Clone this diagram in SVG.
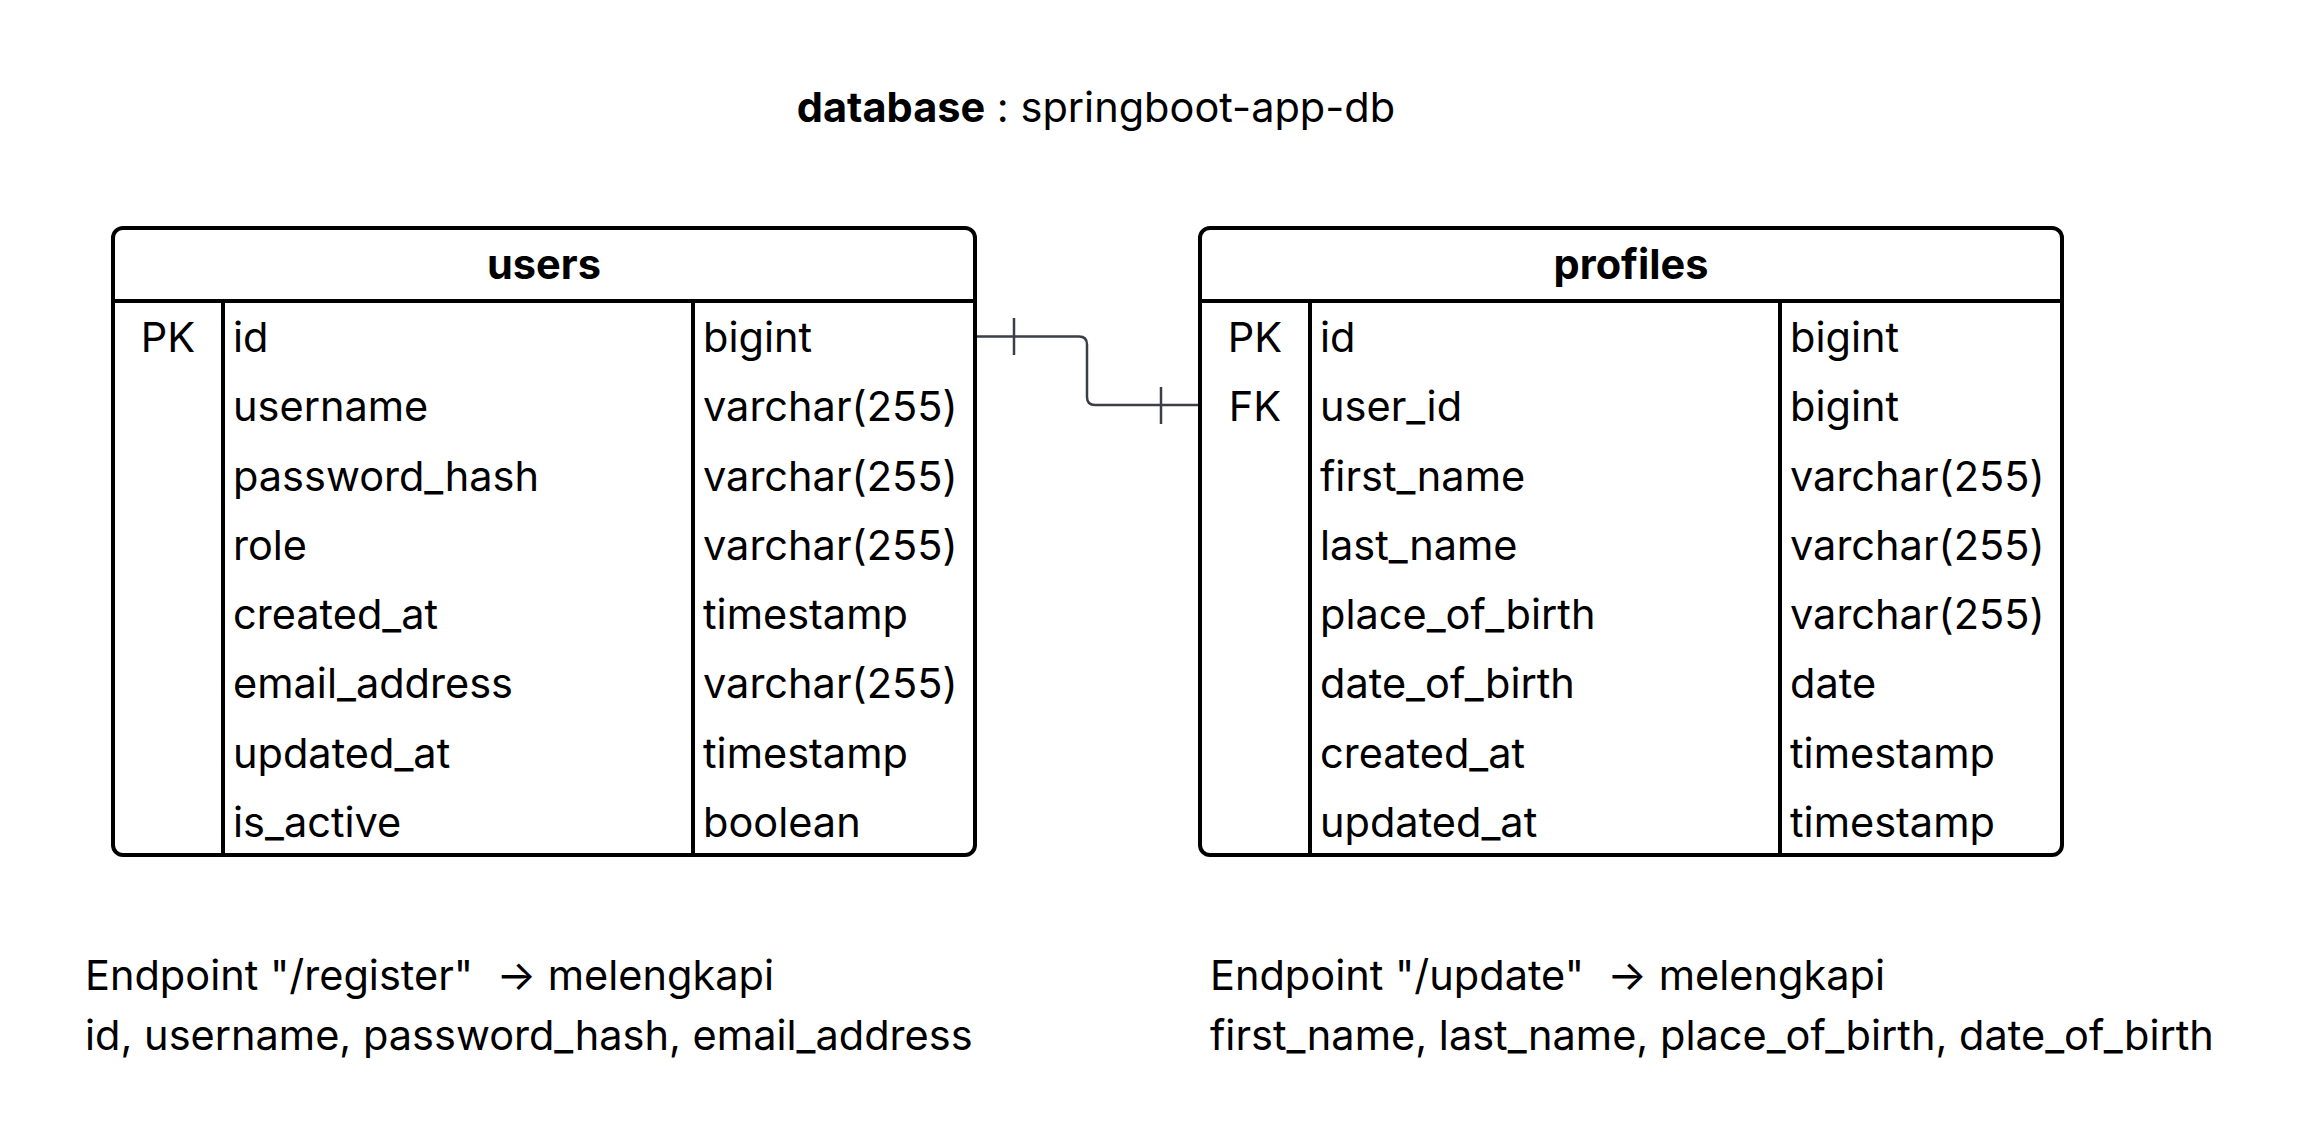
<svg xmlns="http://www.w3.org/2000/svg" width="2303" height="1144" viewBox="0 0 2303 1144">
<style>
text { font-family: Inter, "Noto Sans", "Liberation Sans", sans-serif; font-size: 41.5px; fill: #000; }
.hdr { font-weight: bold; text-anchor: middle; }
.key { text-anchor: middle; }
.box { fill: #fff; stroke: #000; stroke-width: 4; }
.ln { stroke: #000; stroke-width: 4; fill: none; }
.conn { stroke: #3a3f47; stroke-width: 2.5; fill: none; }
</style>
<rect width="2303" height="1144" fill="#fff"/>
<text x="1096" y="122" text-anchor="middle"><tspan font-weight="bold">database</tspan> : springboot-app-db</text>

<g id="users">
  <rect class="box" x="113" y="228" width="862" height="627" rx="10"/>
  <line class="ln" x1="113" y1="301" x2="975" y2="301"/>
  <line class="ln" x1="223" y1="301" x2="223" y2="855"/>
  <line class="ln" x1="693" y1="301" x2="693" y2="855"/>
  <text class="hdr" x="544" y="279">users</text>
  <text class="key" x="168" y="352">PK</text>
  <text x="233" y="352">id</text><text x="703" y="352">bigint</text>
  <text x="233" y="421.25">username</text><text x="703" y="421.25">varchar(255)</text>
  <text x="233" y="490.5">password_hash</text><text x="703" y="490.5">varchar(255)</text>
  <text x="233" y="559.75">role</text><text x="703" y="559.75">varchar(255)</text>
  <text x="233" y="629">created_at</text><text x="703" y="629">timestamp</text>
  <text x="233" y="698.25">email_address</text><text x="703" y="698.25">varchar(255)</text>
  <text x="233" y="767.5">updated_at</text><text x="703" y="767.5">timestamp</text>
  <text x="233" y="836.75">is_active</text><text x="703" y="836.75">boolean</text>
</g>

<g id="profiles">
  <rect class="box" x="1200" y="228" width="862" height="627" rx="10"/>
  <line class="ln" x1="1200" y1="301" x2="2062" y2="301"/>
  <line class="ln" x1="1310" y1="301" x2="1310" y2="855"/>
  <line class="ln" x1="1780" y1="301" x2="1780" y2="855"/>
  <text class="hdr" x="1631" y="279">profiles</text>
  <text class="key" x="1255" y="352">PK</text>
  <text class="key" x="1255" y="421.25">FK</text>
  <text x="1320" y="352">id</text><text x="1790" y="352">bigint</text>
  <text x="1320" y="421.25">user_id</text><text x="1790" y="421.25">bigint</text>
  <text x="1320" y="490.5">first_name</text><text x="1790" y="490.5">varchar(255)</text>
  <text x="1320" y="559.75">last_name</text><text x="1790" y="559.75">varchar(255)</text>
  <text x="1320" y="629">place_of_birth</text><text x="1790" y="629">varchar(255)</text>
  <text x="1320" y="698.25">date_of_birth</text><text x="1790" y="698.25">date</text>
  <text x="1320" y="767.5">created_at</text><text x="1790" y="767.5">timestamp</text>
  <text x="1320" y="836.75">updated_at</text><text x="1790" y="836.75">timestamp</text>
</g>

<g id="connectors">
  <path class="conn" d="M977,336.5 H1079 Q1087,336.5 1087,344.5 V397 Q1087,405 1095,405 H1198"/>
  <line class="conn" x1="1014" y1="318" x2="1014" y2="355"/>
  <line class="conn" x1="1161" y1="387" x2="1161" y2="424"/>
</g>

<g id="note-register">
  <text x="85" y="990" xml:space="preserve">Endpoint "/register"  → melengkapi</text>
  <text x="85" y="1050">id, username, password_hash, email_address</text>
</g>
<g id="note-update">
  <text x="1210" y="990" xml:space="preserve">Endpoint "/update"  → melengkapi</text>
  <text x="1210" y="1050">first_name, last_name, place_of_birth, date_of_birth</text>
</g>
</svg>
